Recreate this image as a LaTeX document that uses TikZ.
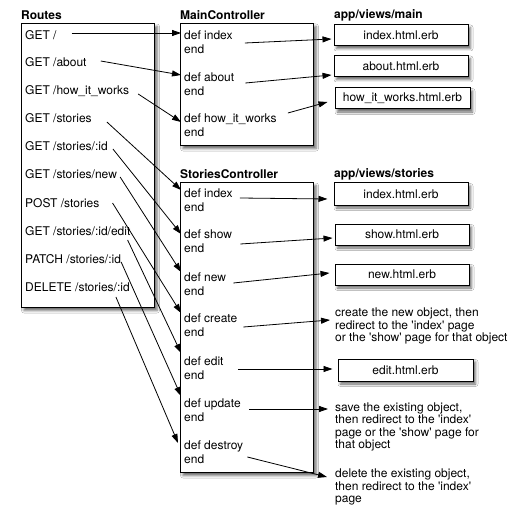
\documentclass[tikz,border=0pt]{standalone}
\usepackage{fontspec}
\setmainfont{TeX Gyre Heros}
\usetikzlibrary{arrows.meta,shadows.blur}
\begin{document}
\begin{tikzpicture}[x=1pt,y=-1pt,
  font=\fontsize{12}{14}\selectfont,
  shad/.style={blur shadow={shadow xshift=2.5pt,shadow yshift=-3pt,shadow opacity=60,shadow blur radius=2.5pt}},
  container/.style={draw,line width=1pt,fill=white,shad,inner sep=0pt,anchor=north west},
  view/.style={draw,line width=1pt,fill=white,shad,minimum width=134pt,minimum height=21pt,inner sep=0pt},
  route/.style={anchor=west,inner sep=3pt},
  meth/.style={anchor=west,inner sep=3pt,align=left},
  desc/.style={anchor=west,inner sep=0pt,align=left,font=\fontsize{12}{12.5}\selectfont},
  title/.style={anchor=west,inner sep=0pt,font=\bfseries\fontsize{12}{14}\selectfont},
  arr/.style={-{Triangle[length=9pt,width=6pt]},line width=0.8pt}]
\fill[white] (0,0) rectangle (517,516);
\useasboundingbox (0,0) rectangle (517,516);

% containers
\node[container,minimum width=133pt,minimum height=284pt] (routes) at (21,23) {};
\node[container,minimum width=133pt,minimum height=122pt] (main) at (180,23) {};
\node[container,minimum width=133pt,minimum height=290pt] (stories) at (180,182) {};

% titles
\node[title] (tr) at (21,15) {Routes};
\node[title] (tm) at (180,15) {MainController};
\node[title] (tv) at (334,15) {app/views/main};
\node[title] (ts) at (180,174) {StoriesController};
\node[title] (tvs) at (334,174) {app/views/stories};

% routes
\node[route] (r1) at (22,35) {GET /};
\node[route] (r2) at (22,62) {GET /about};
\node[route] (r3) at (22,91) {GET /how\_it\_works};
\node[route] (r4) at (22,118) {GET /stories};
\node[route] (r5) at (22,146) {GET /stories/:id};
\node[route] (r6) at (22,174) {GET /stories/new};
\node[route] (r7) at (22,203) {POST /stories};
\node[route] (r8) at (22,231) {GET /stories/:id/edit};
\node[route] (r9) at (22,259) {PATCH /stories/:id};
\node[route] (r10) at (22,287) {DELETE /stories/:id};

% methods
\node[meth] (mi) at (181,42) {def index\\end};
\node[meth] (ma) at (181,84) {def about\\end};
\node[meth] (mh) at (181,125) {def how\_it\_works\\end};
\node[meth] (si) at (181,200) {def index\\end};
\node[meth] (ss) at (181,241.5) {def show\\end};
\node[meth] (sn) at (181,284) {def new\\end};
\node[meth] (sc) at (181,325.5) {def create\\end};
\node[meth] (se) at (181,368) {def edit\\end};
\node[meth] (su) at (181,410) {def update\\end};
\node[meth] (sd) at (181,452) {def destroy\\end};

% views
\node[view] (iv1) at (401,35) {index.html.erb};
\node[view] (iv2) at (401,66) {about.html.erb};
\node[view,minimum width=135pt] (iv3) at (402.5,98.5) {how\_it\_works.html.erb};
\node[view,minimum height=22pt] (sv1) at (401,194) {index.html.erb};
\node[view] (sv2) at (402,234.5) {show.html.erb};
\node[view] (sv3) at (402,274.5) {new.html.erb};
\node[view,minimum width=135pt,minimum height=22pt] (ev) at (405.5,370) {edit.html.erb};
\node[desc] (ct) at (335,326) {create the new object, then\\redirect to the \textquotesingle index\textquotesingle{} page\\or the \textquotesingle show\textquotesingle{} page for that object};
\node[desc] (ut) at (335,427) {save the existing object,\\then redirect to the \textquotesingle index\textquotesingle\\page or the \textquotesingle show\textquotesingle{} page for\\that object};
\node[desc] (dt) at (335,487) {delete the existing object,\\then redirect to the \textquotesingle index\textquotesingle\\page};

% routes -> controllers
\draw[arr] ([xshift=12pt,yshift=2pt]r1.east) -- ([yshift=9pt]mi.west);
\draw[arr] ([xshift=11pt,yshift=1pt]r2.east) -- ([yshift=9pt]ma.west);
\draw[arr] ([xshift=6pt,yshift=-3pt]r3.east) -- ([yshift=3pt]mh.west);
\draw[arr] ([xshift=12pt,yshift=-4pt]r4.east) -- ([yshift=10pt]si.west);
\draw[arr] ([xshift=2pt,yshift=-3pt]r5.east) -- ([yshift=7.5pt]ss.west);
\draw[arr] ([xshift=0pt,yshift=-3pt]r6.east) -- ([yshift=12pt]sn.west);
\draw[arr] ([xshift=10pt]r7.east) -- ([yshift=12.5pt]sc.west);
\draw[arr] ([xshift=-6pt,yshift=-9pt]r8.east) -- ([yshift=15pt]se.west);
\draw[arr] ([xshift=-3pt,yshift=-3pt]r9.east) -- ([yshift=14pt]su.west);
\draw[arr] ([xshift=-17pt,yshift=-10pt]r10.east) -- ([xshift=-3pt,yshift=9pt]sd.west);

% controllers -> views
\draw[arr] ([xshift=9pt,yshift=-1pt]mi.east) -- ([xshift=-2pt,yshift=-4pt]iv1.west);
\draw[arr] ([xshift=8pt,yshift=1pt]ma.east) -- ([xshift=-2pt,yshift=-9pt]iv2.west);
\draw[arr] ([xshift=8pt,yshift=12pt]mh.east) -- ([xshift=-7pt,yshift=-3.5pt]iv3.west);
\draw[arr] ([xshift=4pt,yshift=2pt]si.east) -- ([xshift=-6pt,yshift=-5pt]sv1.west);
\draw[arr] ([xshift=5pt,yshift=-2.5pt]ss.east) -- ([xshift=-2pt,yshift=-3.5pt]sv2.west);
\draw[arr] ([xshift=4pt,yshift=1pt]sn.east) -- ([xshift=-5pt,yshift=1.5pt]sv3.west);
\draw[arr] ([xshift=3pt,yshift=-1.5pt]sc.east) -- ([xshift=-5pt,yshift=6pt]ct.west);
\draw[arr] ([xshift=11pt,yshift=-1pt]se.east) -- ([xshift=-5pt,yshift=1pt]ev.west);
\draw[arr] ([xshift=5pt,yshift=1pt]su.east) -- ([xshift=-7pt,yshift=18pt]ut.west);
\draw[arr] ([xshift=1pt,yshift=-5pt]sd.east) -- ([xshift=-8pt,yshift=10pt]dt.west);
\end{tikzpicture}
\end{document}
